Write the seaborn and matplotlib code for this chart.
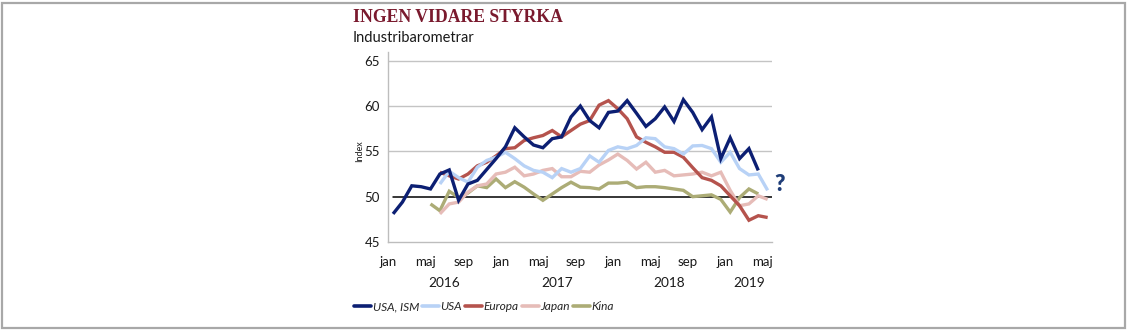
import numpy as np
import pandas as pd
import matplotlib
matplotlib.use("Agg")
import matplotlib.pyplot as plt
import matplotlib.transforms as mtransforms
from matplotlib.lines import Line2D
from matplotlib.patches import Rectangle
import seaborn as sns

sns.set_style("white")
plt.rcParams["font.family"] = ["Lato", "DejaVu Sans"]

nan = np.nan

# Monthly index values, jan 2016 .. maj 2019 (41 months)
usa_ism = [48.1, 49.4, 51.2, 51.1, 50.85, 52.5, 52.95, 49.6, 51.4, 51.8,
           53.0, 54.2, 55.5, 57.6, 56.6, 55.7, 55.4, 56.4, 56.6, 58.8,
           60.0, 58.4, 57.6, 59.3, 59.45, 60.6, 59.2, 57.75, 58.6, 59.9,
           58.3, 60.7, 59.3, 57.4, 58.8, 54.2, 56.5, 54.2, 55.3, 52.9, nan]
usa = [nan, nan, nan, nan, nan, 51.4, 52.8, 52.1, 51.6, 53.25,
       54.0, 54.35, 54.9, 54.2, 53.4, 52.9, 52.7, 52.1, 53.1, 52.7,
       53.1, 54.5, 53.8, 55.1, 55.5, 55.3, 55.65, 56.5, 56.4, 55.5,
       55.3, 54.7, 55.6, 55.65, 55.3, 53.8, 54.9, 53.1, 52.4, 52.5, 50.7]
europa = [nan, nan, nan, nan, nan, 52.7, 52.3, 51.95, 52.5, 53.4,
          53.8, 54.5, 55.3, 55.4, 56.2, 56.5, 56.75, 57.3, 56.6, 57.3,
          58.0, 58.4, 60.1, 60.6, 59.7, 58.6, 56.6, 56.0, 55.5, 54.9,
          54.9, 54.35, 53.2, 52.1, 51.8, 51.2, 50.1, 49.0, 47.4, 47.9, 47.7]
japan = [nan, nan, nan, nan, nan, 48.1, 49.2, 49.4, 50.5, 51.2,
         51.4, 52.5, 52.7, 53.25, 52.3, 52.5, 52.9, 53.1, 52.2, 52.2,
         52.8, 52.7, 53.5, 54.05, 54.7, 54.0, 53.05, 53.8, 52.7, 52.9,
         52.3, 52.4, 52.5, 52.7, 52.3, 52.7, 50.7, 49.0, 49.2, 50.1, 49.7]
kina = [nan, nan, nan, nan, 49.2, 48.45, 50.6, 49.9, 50.4, 51.2,
        51.0, 51.95, 51.0, 51.65, 51.05, 50.3, 49.6, 50.3, 51.0, 51.6,
        51.05, 51.0, 50.85, 51.5, 51.5, 51.6, 51.0, 51.1, 51.1, 51.0,
        50.85, 50.7, 50.0, 50.1, 50.2, 49.7, 48.3, 49.9, 50.85, 50.3, nan]

series_names = ["USA, ISM", "USA", "Europa", "Japan", "Kina"]
series_values = [usa_ism, usa, europa, japan, kina]
series_colors = ["#0C1F73", "#B8D2F6", "#B5534D", "#E6BCB8", "#ACAC76"]

month_labels = ["jan", "maj", "sep"] * 3 + ["jan", "maj"]
year_labels = ["2016", "2017", "2018", "2019"]
year_centers = [6, 18, 30, 38.5]

n_months = len(usa_ism)
month_pos = np.arange(n_months) + 0.5  # points sit in the middle of each month

frames = []
for name, vals in zip(series_names, series_values):
    frames.append(pd.DataFrame({"month": month_pos, "index": vals, "serie": name}))
df = pd.concat(frames, ignore_index=True).dropna()

fig = plt.figure(figsize=(11.27, 3.30), dpi=100)
fig.patches.append(Rectangle((0.0015, 0.006), 0.997, 0.985, transform=fig.transFigure,
                             fill=False, edgecolor="#A8A8A8", linewidth=1.6))

ax = fig.add_axes([0.3446, 0.2667, 0.3407, 0.5767])
ax.set_xlim(0, n_months)
ax.set_ylim(45, 66)

# grid lines
for v in [55, 60, 65]:
    ax.axhline(v, color="#C4C4C4", lw=1.0, zorder=1)
ax.axhline(50, xmin=0.5 / n_months, xmax=1.0, color="black", lw=1.1, zorder=2)

# draw series, first legend entry on top
for i in reversed(range(len(series_names))):
    name = series_names[i]
    sns.lineplot(data=df[df["serie"] == name], x="month", y="index", ax=ax,
                 color=series_colors[i], lw=2.4, legend=False, zorder=3 + (5 - i),
                 solid_joinstyle="miter", solid_capstyle="butt")

for s in ["top", "right"]:
    ax.spines[s].set_visible(False)
for s in ["left", "bottom"]:
    ax.spines[s].set_color("#BDBDBD")
    ax.spines[s].set_linewidth(1.0)

ax.set_yticks([45, 50, 55, 60, 65])
ax.tick_params(axis="y", length=3, width=1, color="#BDBDBD", pad=3,
               labelsize=9.5, labelcolor="#1A1A1A")

ax.xaxis.remove_overlapping_locs = False
ax.set_xticks([0, 12, 24, 36, n_months])
ax.set_xticklabels([])
ax.tick_params(axis="x", which="major", length=4, width=1, color="#BDBDBD")
ax.set_xticks(np.arange(0, n_months, 4), minor=True)
ax.set_xticklabels(month_labels, minor=True)
ax.tick_params(axis="x", which="minor", length=0, pad=10, labelsize=9.5,
               labelcolor="#1A1A1A")

trans = mtransforms.blended_transform_factory(ax.transData, ax.transAxes)
for yl, xc in zip(year_labels, year_centers):
    ax.text(xc, -0.218, yl, transform=trans, ha="center", va="center",
            fontsize=9.8, color="#1A1A1A")

ax.set_xlabel("")
ax.set_ylabel("Index", fontsize=6.5, color="#1A1A1A")
ax.yaxis.set_label_coords(-0.062, 0.478)

ax.text(41.8, 51.3, "?", fontsize=16, fontweight="heavy", color="#1F3D78",
        ha="center", va="center", clip_on=False)

fig.text(353 / 1127, 1 - 18 / 330, "INGEN VIDARE STYRKA", fontsize=12.7,
         fontweight="bold", color="#7A1A2E", family=["Liberation Serif", "DejaVu Serif"],
         ha="left", va="center")
fig.text(353 / 1127, 1 - 38 / 330, "Industribarometrar", fontsize=10.5,
         color="#1A1A1A", ha="left", va="center")

handles = [Line2D([], [], color=c, lw=2.6) for c in series_colors]
fig.legend(handles, series_names, loc="center left",
           bbox_to_anchor=(354 / 1127, 1 - 307 / 330), ncol=5, frameon=False,
           handlelength=1.45, handletextpad=0.1, columnspacing=0.25, borderpad=0,
           borderaxespad=0, prop={"style": "italic", "size": 8.6})

fig.savefig("out.png", dpi=100)
